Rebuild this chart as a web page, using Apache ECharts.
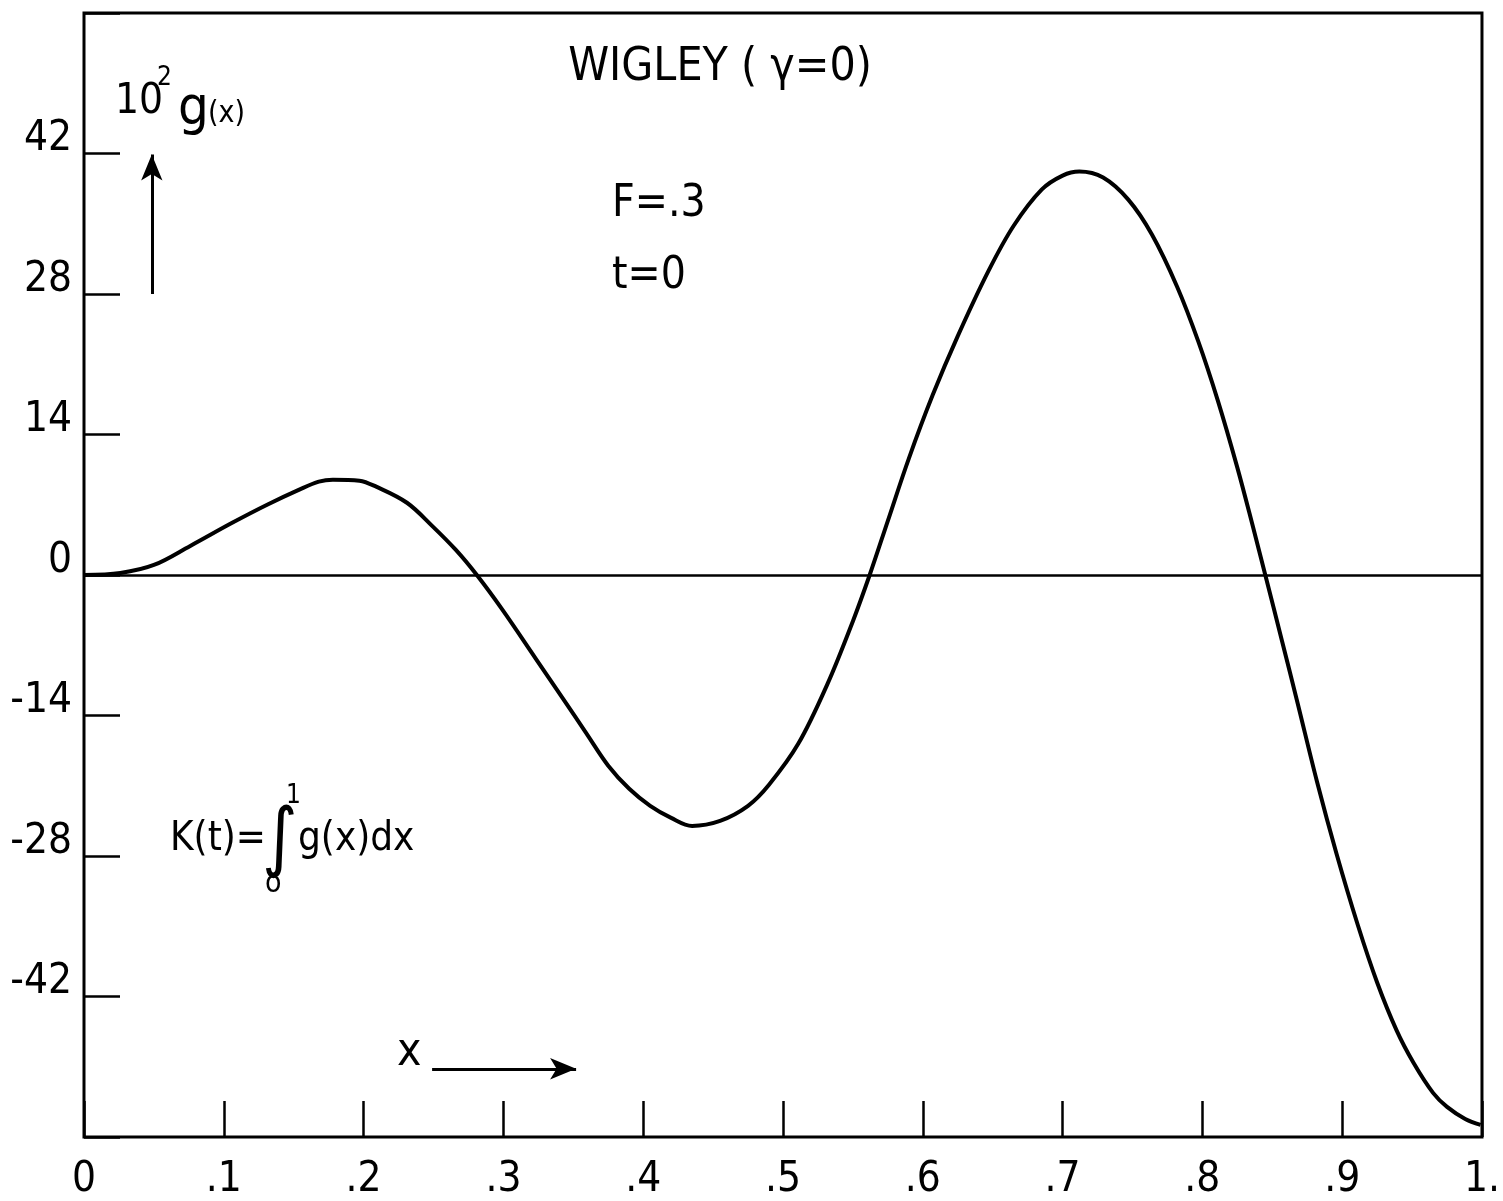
<!DOCTYPE html>
<html>
<head>
<meta charset="utf-8">
<script src="https://cdn.jsdelivr.net/npm/echarts@6/dist/echarts.min.js"></script>
<style>
html,body{margin:0;padding:0;background:#fff;}
#chart{width:1503px;height:1201px;}
</style>
</head>
<body>
<div id="chart"></div>
<script>
// ---- data ----
const xValues = [0, 0.026, 0.05, 0.076, 0.106, 0.131, 0.154, 0.168, 0.178, 0.197, 0.209, 0.231, 0.249, 0.266, 0.281, 0.299, 0.323, 0.342, 0.359, 0.375, 0.39, 0.405, 0.42, 0.435, 0.455, 0.475, 0.49, 0.511, 0.532, 0.55, 0.562, 0.575, 0.59, 0.607, 0.625, 0.647, 0.665, 0.685, 0.70, 0.712, 0.729, 0.747, 0.764, 0.782, 0.797, 0.811, 0.825, 0.836, 0.845, 0.857, 0.868, 0.882, 0.896, 0.911, 0.925, 0.939, 0.951, 0.965, 0.975, 0.988, 0.999];
const gValues = [0, 0.2, 1.0, 2.9, 5.2, 7.0, 8.5, 9.3, 9.5, 9.4, 8.8, 7.2, 4.9, 2.5, 0, -3.4, -8.3, -12.2, -15.7, -19.0, -21.3, -23.0, -24.2, -25.0, -24.5, -23.0, -20.9, -16.8, -10.8, -4.6, 0, 5.4, 11.6, 17.9, 23.8, 30.3, 34.8, 38.4, 39.8, 40.2, 39.6, 37.4, 33.9, 28.7, 23.3, 17.4, 10.7, 4.9, 0, -6.6, -12.7, -20.6, -27.8, -34.8, -40.6, -45.4, -48.6, -51.6, -53.0, -54.2, -54.8];
const xTickLabels = {"0": "0", "0.1": ".1", "0.2": ".2", "0.3": ".3", "0.4": ".4", "0.5": ".5", "0.6": ".6", "0.7": ".7", "0.8": ".8", "0.9": ".9", "1": "1."};
const yTickLabels = {"42": "42", "28": "28", "14": "14", "0": "0", "-14": "-14", "-28": "-28", "-42": "-42"};
// annotation arrows (data coordinates): [x1, y1, x2, y2]
const upArrow = [0.0485, 28, 0.0485, 41.9];
const rightArrow = [0.249, -49.2, 0.352, -49.2];

const FONT = "'DejaVu Sans Condensed', 'DejaVu Sans', sans-serif";
const chart = echarts.init(document.getElementById('chart'), null, {renderer: 'canvas'});

function txt(text, x, y, size, align) {
  return {
    type: 'text', x: x, y: y, silent: true,
    style: {
      text: text, fill: '#000',
      font: size + 'px ' + FONT,
      textAlign: align || 'left', textVerticalAlign: 'middle',
      align: align || 'left', verticalAlign: 'middle'
    }
  };
}

const option = {
  animation: false,
  backgroundColor: '#fff',
  grid: {
    left: 84, right: 18, top: 13, bottom: 64,
    show: true, borderColor: '#000', borderWidth: 3, backgroundColor: 'transparent'
  },
  xAxis: {
    type: 'value', min: 0, max: 1, interval: 0.1,
    axisLine: {show: false, onZero: false},
    splitLine: {show: false},
    axisTick: {show: true, inside: true, length: 36, lineStyle: {color: '#000', width: 2.5}},
    axisLabel: {
      show: true, margin: 22, color: '#000', fontSize: 42, fontFamily: FONT,
      formatter: function (v) { const k = String(Math.round(v * 10) / 10); return xTickLabels[k] !== undefined ? xTickLabels[k] : ''; }
    }
  },
  yAxis: {
    type: 'value', min: -56, max: 56, interval: 14,
    axisLine: {show: false, onZero: false},
    splitLine: {show: false},
    axisTick: {show: true, inside: true, length: 36, lineStyle: {color: '#000', width: 2.5}},
    axisLabel: {
      show: true, margin: 12, color: '#000', fontSize: 42, fontFamily: FONT,
      verticalAlign: 'bottom', lineHeight: 28,
      formatter: function (v) { const k = String(v); return yTickLabels[k] !== undefined ? yTickLabels[k] : ''; }
    }
  },
  series: [{
    type: 'line',
    data: xValues.map((x, i) => [x, gValues[i]]),
    showSymbol: false,
    smooth: 0.35,
    silent: true,
    lineStyle: {color: '#000', width: 4},
    markLine: {
      silent: true,
      symbol: ['none', 'none'],
      symbolSize: [16, 26],
      label: {show: false},
      lineStyle: {color: '#000', width: 3, type: 'solid'},
      emphasis: {disabled: true},
      data: [
        {yAxis: 0, lineStyle: {width: 2.5}},
        [{coord: [upArrow[0], upArrow[1]]}, {coord: [upArrow[2], upArrow[3]], symbol: 'arrow', symbolSize: [16, 26]}],
        [{coord: [rightArrow[0], rightArrow[1]]}, {coord: [rightArrow[2], rightArrow[3]], symbol: 'arrow', symbolSize: [16, 26]}]
      ]
    }
  }],
  graphic: [
    txt('WIGLEY ( γ=0)', 720, 68, 46, 'center'),
    txt('10', 115, 102, 42),
    txt('2', 157, 78, 26),
    txt('g', 178, 110, 54),
    txt('(x)', 208, 114, 30),
    txt('F=.3', 612, 205, 44),
    txt('t=0', 612, 277, 44),
    txt('K(t)=', 170, 840, 40),
    txt('∫', 262, 842, 76),
    txt('1', 286, 796, 26),
    txt('o', 265, 884, 30),
    txt('g(x)dx', 298, 840, 40),
    txt('x', 397, 1053, 46)
  ]
};
chart.setOption(option);
</script>
</body>
</html>
